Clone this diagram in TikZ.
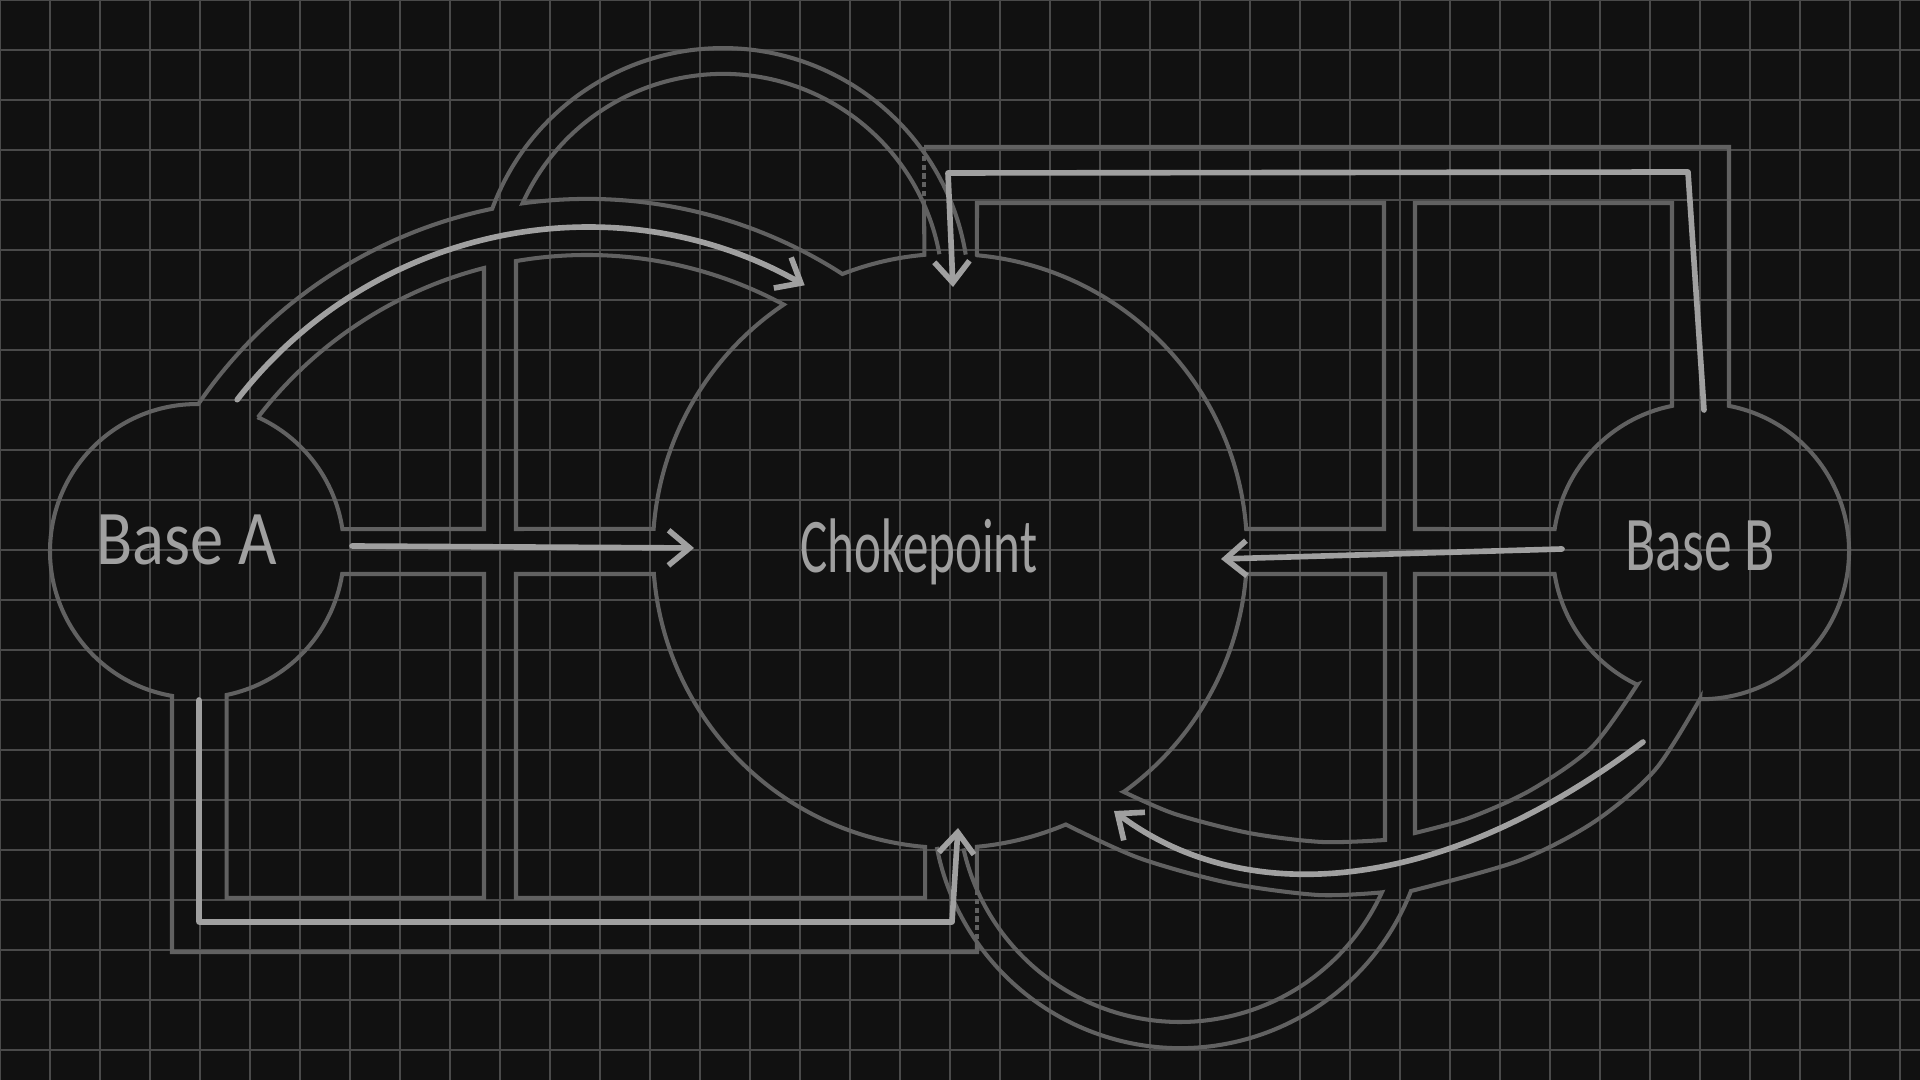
\documentclass[tikz,border=0pt]{standalone}
\usepackage{fontspec}
\usepackage{graphicx}
\usetikzlibrary{arrows.meta}
\newfontfamily\handfont{Carlito}
\definecolor{backdrop}{RGB}{17, 17, 17}
\definecolor{gridgray}{RGB}{74, 74, 74}
\definecolor{wallgray}{RGB}{97, 97, 97}
\definecolor{handgray}{RGB}{160, 160, 160}

\begin{document}
\begin{tikzpicture}[x=0.01cm, y=0.01cm, yscale=-1,
    gridline/.style={draw=gridgray, line width=0.3pt},
    wall/.style={draw=wallgray, line width=1.15pt},
    bridge/.style={wall, dash pattern=on 1.5pt off 1pt},
    hand/.style={draw=handgray, line width=1.6pt, line cap=round, line join=round, -{Straight Barb[length=6pt, width=10pt]}},
    scrawl/.style={text=handgray, font=\handfont\fontsize{22}{26}\selectfont, inner sep=0pt, anchor=base}]
    \useasboundingbox (0,0) rectangle (1920,1080);
    \fill[backdrop] (0,0) rectangle (1920,1080);
    \foreach \gx in {0,50,...,1900} \draw[gridline] (\gx,0) -- (\gx,1080);
    \foreach \gy in {0,50,...,1050} \draw[gridline] (0,\gy) -- (1920,\gy);

    % Blocks between Base A and the chokepoint
    \draw[wall] (257.8,417.2) arc[start angle=-65.6, end angle=-8.6, radius=147] -- (484,529) -- (484,268) arc[start angle=-104.4, end angle=-142.5, radius=415] -- cycle;
    \draw[wall] (516,529) -- (516,261.1) arc[start angle=-99.85, end angle=-61.7, radius=415] arc[start angle=236, end angle=184.25, radius=297] -- cycle;
    \draw[wall] (484,574) -- (342.2,574) arc[start angle=9, end angle=78.4, radius=147] -- (226.6,898) -- (484,898) -- cycle;
    \draw[wall] (516,574) -- (653.9,574) arc[start angle=175.56, end angle=94.8, radius=297] -- (925.1,898) -- (516,898) -- cycle;

    % Outer wall: bottom lane, Base A, upper lane, top loop
    \draw[wall] (977,942.5) -- (977,952) -- (172,952) -- (172,695.9) arc[start angle=99.8, end angle=270.5, radius=147] arc[start angle=-145.6, end angle=-101.6, radius=471] arc[start angle=-159.7, end angle=-9.24, radius=246];
    \draw[wall] (939.4,254.2) arc[start angle=-10.4, end angle=-155.7, radius=220] arc[start angle=-97.9, end angle=-57.2, radius=471] arc[start angle=248.7, end angle=265, radius=297] -- (924.1,205);
    \draw[bridge] (924.1,205) -- (924.1,147);

    % Outer wall: top lane, Base B, lower lane, bottom loop
    \draw[wall] (924.1,147) -- (1729,147) -- (1729,405.9) arc[start angle=-79.1, end angle=90.4, radius=148] -- plot[smooth] coordinates {(1700,699) (1655,770) (1594,822) (1518,861) (1411,891)} arc[start angle=21.5, end angle=169.1, radius=248];
    \draw[wall] (963.4,848.4) arc[start angle=167.4, end angle=24.6, radius=222] -- plot[smooth] coordinates {(1381.8,892.4) (1318,895) (1229,883) (1139,858) (1065.8,824.5)} arc[start angle=67.05, end angle=84.8, radius=297] -- (977,890);
    \draw[bridge] (977,890) -- (977,942.5);

    % Blocks between the chokepoint and Base B
    \draw[wall] (976.9,255.2) -- (977,203) -- (1384,203) -- (1384,529) -- (1246.2,529) arc[start angle=-4.25, end angle=-84.8, radius=297] -- cycle;
    \draw[wall] (1415,529) -- (1415,203) -- (1672,203) -- (1672,405.9) arc[start angle=-101.3, end angle=-171.5, radius=148] -- cycle;
    \draw[wall] (1385,574) -- (1246.1,574) arc[start angle=4.44, end angle=54.2, radius=297] -- plot[smooth] coordinates {(1123.7,791.9) (1175,814) (1249,833) (1322,842) (1385,840)} -- cycle;
    \draw[wall] (1415,574) -- (1554.6,574) arc[start angle=171.1, end angle=115.5, radius=148] -- plot[smooth] coordinates {(1637.3,684.6) (1592,747) (1531,790) (1469,818) (1415,833)} -- cycle;

    % Labels
    \node[scrawl] (baseA) at (187,565) {\scalebox{0.86}[1]{Base A}};
    \node[scrawl] (choke) at (919,573) {\scalebox{0.66}[1]{Chokepoint}};
    \node[scrawl] (baseB) at (1700,571) {\scalebox{0.72}[1]{Base B}};

    % Arrow ends
    \coordinate (aEast) at (352,546);
    \coordinate (cWest) at (694,548);
    \coordinate (bWest) at (1562,549);
    \coordinate (cEast) at (1221,559);
    \coordinate (aNorth) at (237.2,399.7);
    \coordinate (cNorthWest) at (804.7,285.3);
    \coordinate (bNorth) at (1704,410);
    \coordinate (cNorth) at (953,287);
    \coordinate (aSouth) at (199,700);
    \coordinate (cSouth) at (958,828);
    \coordinate (bSouth) at (1643,742);
    \coordinate (cSouthEast) at (1114,811);

    % Routes
    \draw[hand] (aEast) -- (cWest);
    \draw[hand] (bWest) -- (cEast);
    \draw[hand] (aNorth) .. controls (371.6,225.8) and (613.4,177.1) .. (cNorthWest);
    \draw[hand] (bNorth) -- (1688,172) -- (948,173) -- (cNorth);
    \draw[hand] (aSouth) -- (199,922) -- (952,922) -- (cSouth);
    \draw[hand] (bSouth) .. controls (1422,908) and (1232,900) .. (cSouthEast);
\end{tikzpicture}
\end{document}
